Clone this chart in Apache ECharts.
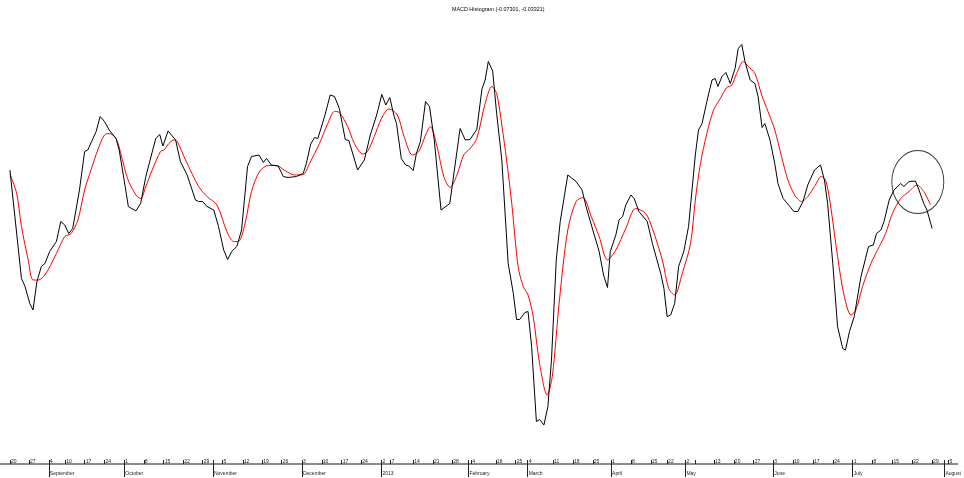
<!DOCTYPE html>
<html>
<head>
<meta charset="utf-8">
<title>MACD Histogram</title>
<script src="https://cdn.jsdelivr.net/npm/echarts@6/dist/echarts.min.js"></script>
<style>
  html, body { margin: 0; padding: 0; background: #fff; }
  #mainChart { width: 964px; height: 478px; }
</style>
</head>
<body>
<div id="mainChart"></div>
<script type="text/javascript">
// x = trading day counted from 2012-08-20 (day 0)
var macdLine = [
  [0.0,0.038],[2.9,-0.179],[3.8,-0.195],[5.0,-0.229],[5.8,-0.242],[6.8,-0.185],[7.9,-0.155],[8.8,-0.149],
  [10.0,-0.125],[11.7,-0.105],[12.8,-0.065],[13.8,-0.072],[14.8,-0.089],[15.8,-0.079],[17.5,-0.002],
  [18.8,0.075],[19.6,0.078],[21.7,0.115],[22.7,0.145],[23.8,0.135],[25.0,0.118],[26.7,0.101],[27.5,0.078],
  [29.0,0.005],[29.8,-0.035],[31.7,-0.044],[32.9,-0.029],[34.2,0.025],[36.7,0.101],[37.7,0.109],[38.5,0.086],
  [39.8,0.116],[41.7,0.098],[42.9,0.055],[44.6,0.028],[46.7,-0.022],[47.5,-0.025],[48.5,-0.025],[49.6,-0.035],
  [51.3,-0.042],[52.5,-0.075],[53.8,-0.122],[54.8,-0.141],[55.8,-0.125],[57.1,-0.115],[58.3,-0.082],
  [59.8,0.045],[60.8,0.065],[62.7,0.068],[63.8,0.053],[64.6,0.061],[65.8,0.048],[67.5,0.046],[68.8,0.025],
  [70.0,0.023],[72.1,0.025],[73.8,0.031],[74.6,0.051],[75.7,0.090],[76.7,0.103],[77.5,0.101],[79.3,0.148],
  [80.6,0.188],[81.7,0.185],[82.9,0.161],[84.4,0.099],[85.3,0.097],[87.5,0.038],[89.2,0.058],[90.7,0.108],
  [92.3,0.148],[93.6,0.189],[94.6,0.168],[95.6,0.183],[96.7,0.145],[97.3,0.131],[98.5,0.061],[99.6,0.048],
  [100.4,0.046],[101.5,0.037],[102.3,0.071],[103.3,0.095],[104.6,0.175],[105.6,0.165],[106.8,0.098],
  [108.5,-0.042],[110.7,-0.029],[113.3,0.121],[114.6,0.098],[115.8,0.099],[117.5,0.119],[118.8,0.200],
  [119.6,0.218],[120.4,0.255],[121.5,0.236],[122.5,0.151],[123.8,0.058],[125.4,-0.149],[126.7,-0.209],
  [127.5,-0.261],[128.3,-0.261],[129.6,-0.247],[130.4,-0.245],[131.3,-0.315],[132.5,-0.465],[133.3,-0.461],
  [134.4,-0.472],[135.4,-0.435],[136.3,-0.342],[137.5,-0.142],[138.5,-0.065],[140.4,0.028],[142.5,0.015],
  [144.0,-0.002],[145.0,-0.035],[146.7,-0.082],[148.3,-0.125],[149.4,-0.172],[150.4,-0.197],[151.1,-0.125],
  [152.5,-0.092],[153.3,-0.062],[154.2,-0.055],[155.0,-0.032],[156.3,-0.012],[157.1,-0.019],[158.3,-0.045],
  [160.4,-0.065],[161.7,-0.109],[163.8,-0.169],[164.6,-0.199],[165.4,-0.255],[166.3,-0.252],[167.3,-0.229],
  [168.3,-0.155],[169.6,-0.125],[170.8,-0.075],[172.5,0.068],[173.3,0.118],[174.2,0.131],[175.4,0.175],
  [176.7,0.218],[177.5,0.221],[178.2,0.205],[179.2,0.225],[180.2,0.233],[181.3,0.211],[182.5,0.241],
  [183.3,0.281],[184.2,0.289],[185.0,0.255],[186.3,0.218],[187.5,0.211],[188.3,0.185],[189.3,0.123],
  [190.0,0.131],[191.3,0.098],[192.5,0.051],[193.3,0.011],[194.6,-0.019],[196.3,-0.035],[197.3,-0.045],
  [198.3,-0.045],[199.6,-0.025],[200.8,0.008],[202.5,0.038],[204.0,0.048],[205.0,0.018],[205.8,-0.029],
  [207.1,-0.149],[208.3,-0.275],[209.6,-0.319],[210.3,-0.322],[211.3,-0.285],[212.5,-0.255],[214.2,-0.175],
  [216.1,-0.115],[217.3,-0.112],[218.1,-0.089],[219.2,-0.082],[220.0,-0.065],[221.3,-0.022],[222.5,-0.002],
  [224.2,0.011],[225.0,0.005],[226.3,0.015],[227.9,0.016],[228.8,-0.002],[230.0,-0.029],[230.8,-0.042],
  [232.1,-0.079]
];
var signalLine = [
  [0.0,0.030],[1.7,-0.009],[2.9,-0.075],[4.6,-0.142],[5.8,-0.182],[7.1,-0.182],[8.8,-0.172],[11.7,-0.129],
  [13.8,-0.095],[15.4,-0.089],[17.1,-0.062],[18.8,-0.002],[20.4,0.038],[22.1,0.078],[23.8,0.108],[25.0,0.111],
  [26.7,0.101],[27.9,0.071],[29.6,0.021],[31.7,-0.012],[32.9,-0.019],[34.2,0.005],[35.8,0.038],[37.9,0.075],
  [38.8,0.078],[40.0,0.091],[41.3,0.098],[42.1,0.095],[44.2,0.058],[47.5,0.005],[49.6,-0.015],[52.1,-0.032],
  [54.6,-0.085],[56.3,-0.105],[57.5,-0.105],[59.2,-0.068],[60.8,-0.005],[62.9,0.036],[65.0,0.047],[67.1,0.047],
  [69.2,0.037],[71.7,0.028],[73.8,0.029],[75.4,0.051],[77.9,0.091],[80.0,0.131],[81.7,0.155],[82.9,0.153],
  [85.0,0.125],[86.7,0.091],[88.8,0.070],[90.0,0.075],[91.7,0.105],[93.5,0.141],[95.4,0.160],[97.5,0.148],
  [99.2,0.105],[101.3,0.068],[102.9,0.075],[104.6,0.108],[105.8,0.125],[107.5,0.085],[109.2,0.025],
  [110.8,0.003],[112.5,0.028],[114.2,0.068],[115.8,0.081],[117.5,0.101],[119.6,0.171],[121.3,0.205],
  [122.5,0.191],[123.8,0.128],[125.0,0.058],[126.3,-0.029],[127.9,-0.155],[129.2,-0.195],[130.4,-0.212],
  [131.7,-0.255],[133.3,-0.349],[135.2,-0.412],[136.5,-0.375],[138.3,-0.222],[140.4,-0.082],[142.5,-0.025],
  [144.2,-0.017],[146.3,-0.055],[148.3,-0.095],[150.4,-0.142],[152.5,-0.122],[155.0,-0.079],[157.5,-0.039],
  [160.0,-0.049],[161.7,-0.079],[164.2,-0.142],[165.8,-0.199],[167.3,-0.212],[169.2,-0.169],[171.3,-0.109],
  [172.5,-0.022],[173.8,0.051],[175.4,0.111],[177.1,0.158],[178.8,0.181],[180.4,0.203],[181.7,0.208],
  [182.9,0.231],[184.6,0.255],[185.8,0.245],[187.5,0.231],[189.2,0.188],[190.8,0.155],[192.5,0.118],
  [194.2,0.065],[195.8,0.018],[197.5,-0.012],[199.2,-0.025],[200.8,-0.015],[202.5,0.005],[204.2,0.025],
  [205.4,0.015],[206.7,-0.042],[208.3,-0.135],[210.0,-0.215],[211.7,-0.252],[212.9,-0.242],[214.6,-0.195],
  [216.7,-0.149],[218.8,-0.115],[220.4,-0.089],[222.1,-0.049],[224.2,-0.019],[226.3,-0.005],[228.3,0.008],
  [230.0,-0.005],[231.7,-0.032]
];
// weekly ticks (day index) with their day-of-month labels
var weekTicks  = [0, 4.8, 9.8, 13.9, 18.8, 23.8, 28.8, 33.7, 38.7, 43.6, 48.5, 51.1, 53.5, 58.6, 63.5, 68.4,
  73.5, 78.5, 83.5, 88.4, 93.5, 95.8, 101.5, 106.5, 111.3, 115.4, 116.1, 122.3, 127.3, 130.3, 136.7, 141.7,
  146.7, 151.3, 156.3, 161.3, 165.4, 170, 172.5, 177.2, 182.2, 187.2, 192.1, 197.1, 202.1, 207.2, 212.1,
  217.1, 222.1, 227.1, 232.1, 235.2, 236.2];
var weekLabels = ['20','27','4','10','17','24','1','8','15','22','29','','5','12','19','26',
  '3','10','17','24','2','7','14','21','28','','4','18','25','4','11','18',
  '25','1','8','15','22','2','','13','20','27','3','10','17','24','1',
  '8','15','22','29','','5'];
// month boundaries
var monthTicks  = [9.8, 28.8, 51.1, 73.5, 93.5, 115.4, 130.3, 151.3, 170, 192.1, 212.1, 235.2];
var monthLabels = ['September','October','November','December','2013','February','March','April','May','June','July','August'];
var circleMark = [[228.5, 0.014]];

var myChart = echarts.init(document.getElementById('mainChart'), null, { renderer: 'canvas' });

function pick(ticks, labels) {
  return function (v) {
    var i = ticks.indexOf(v);
    return i < 0 ? '' : labels[i];
  };
}

var options = {
  animation: false,
  backgroundColor: '#fff',
  title: {
    text: 'MACD Histogram (-0.07301, -0.03321)',
    left: 452,
    top: 7,
    padding: 0,
    textStyle: { fontSize: 5.4, fontWeight: 'normal', color: '#000', fontFamily: 'Liberation Sans' }
  },
  grid: { left: 0, right: 0, top: 9, bottom: 14 },
  xAxis: [{
    type: 'value',
    min: -2.5,
    max: 238.5,
    position: 'bottom',
    splitLine: { show: false },
    axisLine: { show: true, onZero: false, lineStyle: { color: '#666', width: 1.5 } },
    axisTick: { show: true, inside: true, length: 4, customValues: weekTicks, lineStyle: { color: '#222', width: 1 } },
    axisLabel: {
      inside: true, margin: 0, align: 'left', padding: [0, 0, 0, 1],
      customValues: weekTicks, formatter: pick(weekTicks, weekLabels),
      fontSize: 5, color: '#222', fontFamily: 'Liberation Sans'
    }
  }, {
    type: 'value',
    min: -2.5,
    max: 238.5,
    position: 'bottom',
    splitLine: { show: false },
    axisLine: { show: false, onZero: false },
    axisTick: { show: true, inside: false, length: 13, customValues: monthTicks, lineStyle: { color: '#222', width: 1 } },
    axisLabel: {
      margin: 7, align: 'left', padding: [0, 0, 0, 1],
      customValues: monthTicks, formatter: pick(monthTicks, monthLabels),
      fontSize: 5, color: '#222', fontFamily: 'Liberation Sans'
    }
  }],
  yAxis: {
    type: 'value',
    min: -0.55,
    max: 0.36,
    show: false
  },
  series: [{
    name: 'MACD',
    type: 'line',
    data: macdLine,
    showSymbol: false,
    lineStyle: { color: '#000', width: 1 },
    z: 3
  }, {
    name: 'Signal',
    type: 'line',
    data: signalLine,
    smooth: 0.3,
    showSymbol: false,
    lineStyle: { color: '#ff0000', width: 1 },
    z: 2
  }, {
    name: 'mark',
    type: 'scatter',
    data: circleMark,
    symbol: 'circle',
    symbolSize: [52, 63],
    itemStyle: { color: 'rgba(0,0,0,0)', borderColor: '#000', borderWidth: 1 },
    silent: true,
    z: 4
  }]
};

myChart.setOption(options);
</script>
</body>
</html>
